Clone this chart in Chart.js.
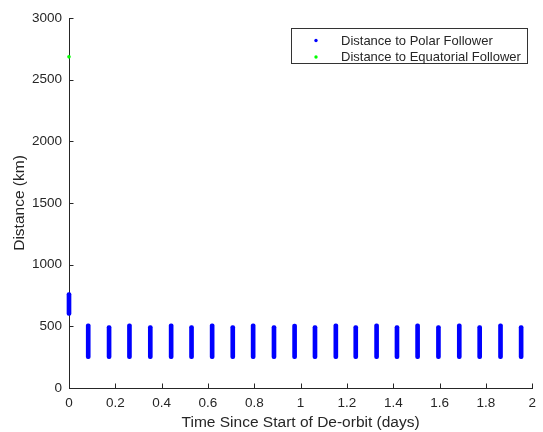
<!DOCTYPE html>
<html>
<head>
<meta charset="utf-8">
<script src="https://cdn.jsdelivr.net/npm/chart.js@4"></script>
<style>
  html, body { margin: 0; padding: 0; background: #ffffff; }
  canvas { display: block; }
</style>
</head>
<body>
<canvas id="chart" width="543" height="432"></canvas>
<script>
// Polar follower: time of each pass (days) and the distance range covered in it (km)
const polarTimes = [0, 0.083, 0.173, 0.261, 0.351, 0.441, 0.529, 0.618, 0.707, 0.795, 0.885, 0.974, 1.062,
                    1.152, 1.238, 1.328, 1.416, 1.505, 1.595, 1.685, 1.773, 1.863, 1.952];
const polarMin = [588, 238, 238, 238, 238, 238, 238, 238, 238, 238, 238, 238, 238,
                  238, 238, 238, 238, 238, 238, 238, 238, 238, 238];
const polarMax = [773, 520, 506, 520, 506, 520, 506, 520, 506, 520, 506, 519, 506,
                  520, 506, 520, 506, 520, 506, 520, 506, 520, 506];

// Equatorial follower: single sample at the start
const equatorialTimes = [0];
const equatorialDist = [2685];

// Tick values and text
const xTickValues = [0, 0.2, 0.4, 0.6, 0.8, 1, 1.2, 1.4, 1.6, 1.8, 2];
const yTickValues = [0, 500, 1000, 1500, 2000, 2500, 3000];
const seriesLabels = ['Distance to Polar Follower', 'Distance to Equatorial Follower'];
const seriesColors = ['#0000ff', '#00ff00'];
const xTitle = 'Time Since Start of De-orbit (days)';
const yTitle = 'Distance (km)';

const INK = '#262626';
const FONT = '"Liberation Sans", Arial, Helvetica, sans-serif';

// Inward tick marks, axis titles and the boxed legend
const decorations = {
  id: 'decorations',
  afterDraw(chart) {
    const ctx = chart.ctx;
    const xs = chart.scales.x, ys = chart.scales.y;
    const area = chart.chartArea;
    const tickLen = 4.5;
    ctx.save();
    ctx.strokeStyle = INK;
    ctx.lineWidth = 1;
    ctx.beginPath();
    xTickValues.forEach(v => {
      const px = Math.round(xs.getPixelForValue(v)) + 0.5;
      ctx.moveTo(px, area.bottom);
      ctx.lineTo(px, area.bottom - tickLen);
    });
    yTickValues.forEach(v => {
      const py = Math.round(ys.getPixelForValue(v)) + 0.5;
      ctx.moveTo(area.left, py);
      ctx.lineTo(area.left + tickLen, py);
    });
    ctx.stroke();

    // axis titles
    ctx.fillStyle = INK;
    ctx.font = '15.5px ' + FONT;
    ctx.textAlign = 'center';
    ctx.textBaseline = 'middle';
    ctx.fillText(xTitle, (area.left + area.right) / 2, 423);
    ctx.save();
    ctx.translate(20, (area.top + area.bottom) / 2);
    ctx.rotate(-Math.PI / 2);
    ctx.fillText(yTitle, 0, 0);
    ctx.restore();

    // legend
    const bx = 291.5, by = 28.5, bw = 236, bh = 35;
    ctx.fillStyle = '#ffffff';
    ctx.fillRect(bx, by, bw, bh);
    ctx.strokeStyle = '#333333';
    ctx.strokeRect(bx, by, bw, bh);
    ctx.font = '13px ' + FONT;
    ctx.textAlign = 'left';
    ctx.textBaseline = 'middle';
    const rows = [40.5, 57];
    seriesLabels.forEach((label, i) => {
      ctx.fillStyle = seriesColors[i];
      ctx.beginPath();
      ctx.arc(316, rows[i], 1.7, 0, Math.PI * 2);
      ctx.fill();
      ctx.fillStyle = INK;
      ctx.fillText(label, 341, rows[i] + 0.5);
    });
    ctx.restore();
  }
};

new Chart(document.getElementById('chart'), {
  type: 'bar',
  data: {
    datasets: [
      {
        label: seriesLabels[0],
        data: polarTimes.map((t, i) => ({ x: t, y: [polarMin[i], polarMax[i]] })),
        backgroundColor: seriesColors[0],
        borderWidth: 0,
        borderSkipped: false,
        borderRadius: 2,
        barThickness: 4,
        clip: false
      },
      {
        type: 'scatter',
        label: seriesLabels[1],
        data: equatorialTimes.map((t, i) => ({ x: t, y: equatorialDist[i] })),
        backgroundColor: seriesColors[1],
        borderColor: seriesColors[1],
        pointRadius: 1.8,
        pointBorderWidth: 0,
        clip: false
      }
    ]
  },
  options: {
    responsive: false,
    animation: false,
    events: [],
    layout: { padding: { top: 18, right: 7, left: 0, bottom: 0 } },
    plugins: { legend: { display: false }, tooltip: { enabled: false } },
    scales: {
      x: {
        type: 'linear',
        min: 0,
        max: 2,
        offset: false,
        afterBuildTicks: s => { s.ticks = xTickValues.map(v => ({ value: v })); },
        afterFit: s => { s.height = 44; },
        grid: { display: true, drawOnChartArea: false, drawTicks: false },
        border: { display: true, color: INK, width: 1 },
        ticks: {
          autoSkip: false,
          maxRotation: 0,
          padding: 7,
          color: INK,
          font: { family: FONT, size: 13.5 },
          callback: v => String(Math.round(v * 10) / 10)
        }
      },
      y: {
        type: 'linear',
        min: 0,
        max: 3000,
        afterBuildTicks: s => { s.ticks = yTickValues.map(v => ({ value: v })); },
        afterFit: s => { s.width = 69; },
        grid: { display: true, drawOnChartArea: false, drawTicks: false },
        border: { display: true, color: INK, width: 1 },
        ticks: {
          autoSkip: false,
          padding: 7,
          color: INK,
          font: { family: FONT, size: 13.5 },
          callback: v => String(v)
        }
      }
    }
  },
  plugins: [decorations]
});
</script>
</body>
</html>
